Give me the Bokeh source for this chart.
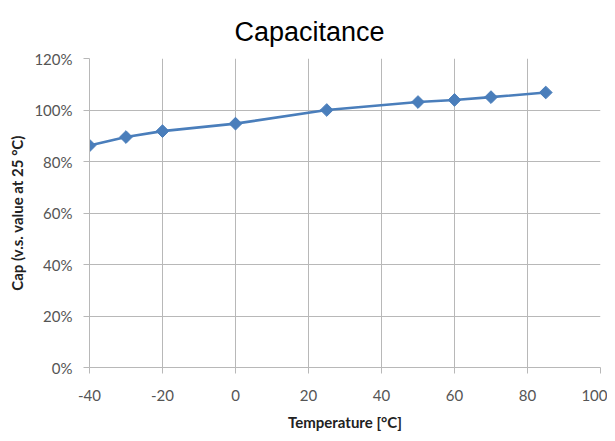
import math
from bokeh.plotting import figure
from bokeh.models import NumeralTickFormatter, FixedTicker, Range1d, Title
from bokeh.embed import file_html
from bokeh.resources import INLINE

temperature = [-40, -30, -20, 0, 25, 50, 60, 70, 85]
capacitance = [0.862, 0.895, 0.918, 0.947, 1.000, 1.031, 1.039, 1.050, 1.068]
x_ticks = [-40, -20, 0, 20, 40, 60, 80, 100]
y_ticks = [0, 0.2, 0.4, 0.6, 0.8, 1.0, 1.2]
title_text = "Capacitance"

p = figure(width=607, height=433, output_backend="svg", toolbar_location=None,
           x_range=Range1d(-40, 100), y_range=Range1d(0, 1.2),
           min_border_left=89, min_border_right=7, min_border_bottom=62, min_border_top=58)
p.title = None
t = Title(text=title_text, align="left", offset=145, vertical_align="top",
          text_font="Liberation Sans", text_font_size="27px", text_font_style="normal",
          text_color="black", standoff=20)
p.add_layout(t, "above")
p.outline_line_color = None

p.line(temperature, capacitance, line_color="#4a7ebb", line_width=2.6)
p.scatter(temperature, capacitance, marker="square", angle=math.pi / 4, size=9,
          color="#4a7ebb")

grid_color = "#b8b8b8"
for ax in (p.xaxis[0], p.yaxis[0]):
    ax.axis_line_color = grid_color
    ax.major_tick_line_color = grid_color
    ax.major_tick_in = 0
    ax.major_tick_out = 6
    ax.minor_tick_line_color = None
    ax.major_label_text_font = "Lato"
    ax.major_label_text_font_size = "15px"
    ax.major_label_text_color = "#555555"
    ax.axis_label_text_font = "Lato"
    ax.axis_label_text_font_size = "15px"
    ax.axis_label_text_font_style = "bold"
    ax.axis_label_text_color = "#222222"

p.xaxis[0].ticker = FixedTicker(ticks=x_ticks)
p.xaxis[0].major_label_overrides = {v: str(v) for v in x_ticks}
p.yaxis[0].ticker = FixedTicker(ticks=y_ticks)
p.yaxis[0].formatter = NumeralTickFormatter(format="0%")
p.xaxis[0].axis_label = "Temperature [°C]"
p.yaxis[0].axis_label = "Cap (v.s. value at 25 °C)"
p.xaxis[0].major_label_standoff = 16
p.yaxis[0].major_label_standoff = 11
p.xaxis[0].axis_label_standoff = 9
p.yaxis[0].axis_label_standoff = 5

p.xgrid.grid_line_color = grid_color
p.ygrid.grid_line_color = grid_color
p.xgrid.ticker = FixedTicker(ticks=x_ticks)
p.ygrid.ticker = FixedTicker(ticks=y_ticks)

open("out.html", "w").write(file_html(p, INLINE))
